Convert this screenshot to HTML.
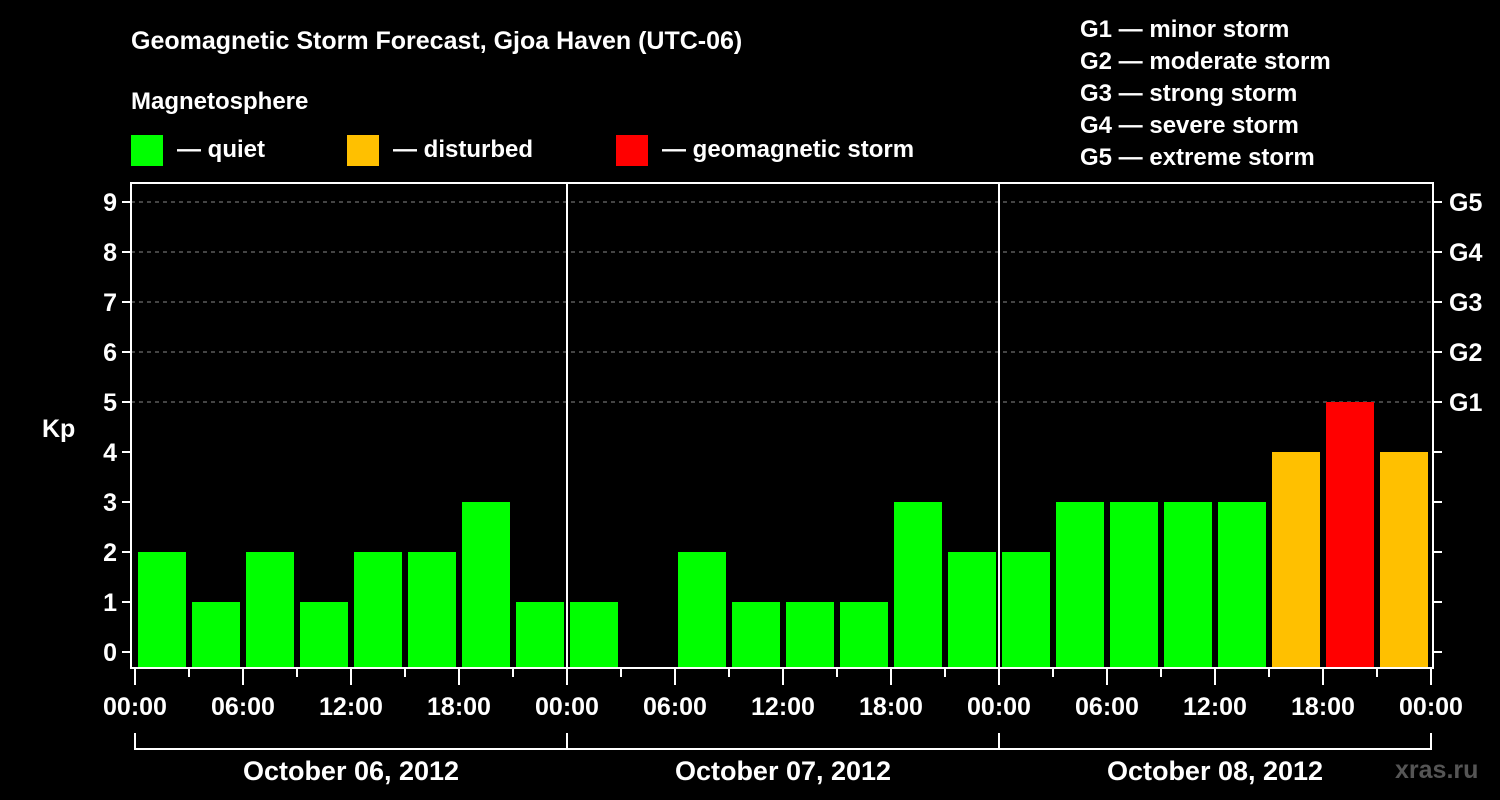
<!DOCTYPE html>
<html><head><meta charset="utf-8"><style>
body{margin:0;background:#000;}
svg{display:block;font-family:"Liberation Sans",Arial,sans-serif;font-weight:bold;}
</style></head><body>
<svg id="chart" width="1500" height="800" viewBox="0 0 1500 800">
<rect width="1500" height="800" fill="#000"/>
<text x="131" y="49" fill="#fff" font-size="25">Geomagnetic Storm Forecast, Gjoa Haven (UTC-06)</text>
<text x="131" y="109" fill="#fff" font-size="24">Magnetosphere</text>
<g><rect x="131" y="135" width="32" height="31" fill="#00ff00"/><text x="177" y="157" fill="#fff" font-size="24">— quiet</text></g>
<g><rect x="347" y="135" width="32" height="31" fill="#ffc000"/><text x="393" y="157" fill="#fff" font-size="24">— disturbed</text></g>
<g><rect x="616" y="135" width="32" height="31" fill="#ff0000"/><text x="662" y="157" fill="#fff" font-size="24">— geomagnetic storm</text></g>
<g fill="#fff" font-size="24">
<text x="1080" y="37">G1 — minor storm</text>
<text x="1080" y="69">G2 — moderate storm</text>
<text x="1080" y="101">G3 — strong storm</text>
<text x="1080" y="133">G4 — severe storm</text>
<text x="1080" y="165">G5 — extreme storm</text>
</g>
<text x="42" y="437" fill="#fff" font-size="25">Kp</text>
<text x="1395" y="778" fill="#555" font-size="25">xras.ru</text>
<g id="plot"></g>
</svg>
<script>
const days = ["October 06, 2012","October 07, 2012","October 08, 2012"];
const hourLabels = ["00:00","06:00","12:00","18:00"];
const kpValues = [2,1,2,1,2,2,3,1, 1,0,2,1,1,1,3,2, 2,3,3,3,3,4,5,4];
const yTicks = [0,1,2,3,4,5,6,7,8,9];
const gLabels = ["G1","G2","G3","G4","G5"];

const NS="http://www.w3.org/2000/svg";
const g=document.getElementById('plot');
const X0=135, DAYW=432, PL=131, PR=1433, PT=183, PB=668;
const x=t=>X0+t*DAYW/24;            // t in hours from start
const y=v=>652-50*v;
function mk(tag,attrs,parent){const e=document.createElementNS(NS,tag);for(const k in attrs)e.setAttribute(k,attrs[k]);(parent||g).appendChild(e);return e;}

// grid for 5..9
yTicks.forEach(v=>{
  if(v>=5){const l=mk('line',{x1:PL,x2:PR,y1:y(v),y2:y(v),stroke:'#888','stroke-dasharray':'4,4','stroke-width':1});
  
  }
});
// bars
kpValues.forEach((v,i)=>{
  const col=v>=5?'#ff0000':(v>=4?'#ffc000':'#00ff00');
  const top=v===0?PB:y(v);
  const r=mk('rect',{x:x(i*3)+3,y:top,width:48,height:PB-top,fill:col});
  
  
});
// day separators
for(let d=1;d<days.length;d++){const l=mk('line',{x1:x(d*24),x2:x(d*24),y1:PT,y2:PB,stroke:'#fff','stroke-width':2});

}
// frame
const fr=mk('rect',{x:PL,y:PT,width:PR-PL,height:PB-PT,fill:'none',stroke:'#fff','stroke-width':2});


// y ticks & labels
yTicks.forEach(v=>{
  mk('line',{x1:PL-9,x2:PL,y1:y(v),y2:y(v),stroke:'#fff','stroke-width':2});
  mk('line',{x1:PR,x2:PR+9,y1:y(v),y2:y(v),stroke:'#fff','stroke-width':2});
  const t=mk('text',{x:PL-14,y:y(v)+9,fill:'#fff','font-size':25,'text-anchor':'end'});t.textContent=v;
  
  
});
gLabels.forEach((s,i)=>{
  const t=mk('text',{x:PR+16,y:y(5+i)+9,fill:'#fff','font-size':25});t.textContent=s;
  
  
});
// x ticks
for(let h=0;h<=days.length*24;h+=3){
  const major=h%6===0;
  mk('line',{x1:x(h),x2:x(h),y1:PB,y2:major?685:677,stroke:'#fff','stroke-width':2});
  if(major){const t=mk('text',{x:x(h),y:715,fill:'#fff','font-size':25,'text-anchor':'middle'});
  t.textContent=hourLabels[(h/6)%4];
  
  }
}
// day brackets
mk('path',{d:`M${x(0)},733V749H${x(72)}V733`,fill:'none',stroke:'#fff','stroke-width':2});
days.forEach((d,i)=>{
  mk('line',{x1:x(i*24),x2:x(i*24),y1:733,y2:749,stroke:'#fff','stroke-width':2});
  const t=mk('text',{x:x(i*24+12),y:780,fill:'#fff','font-size':27,'text-anchor':'middle'});t.textContent=d;
  
  
});
</script>
</body></html>
